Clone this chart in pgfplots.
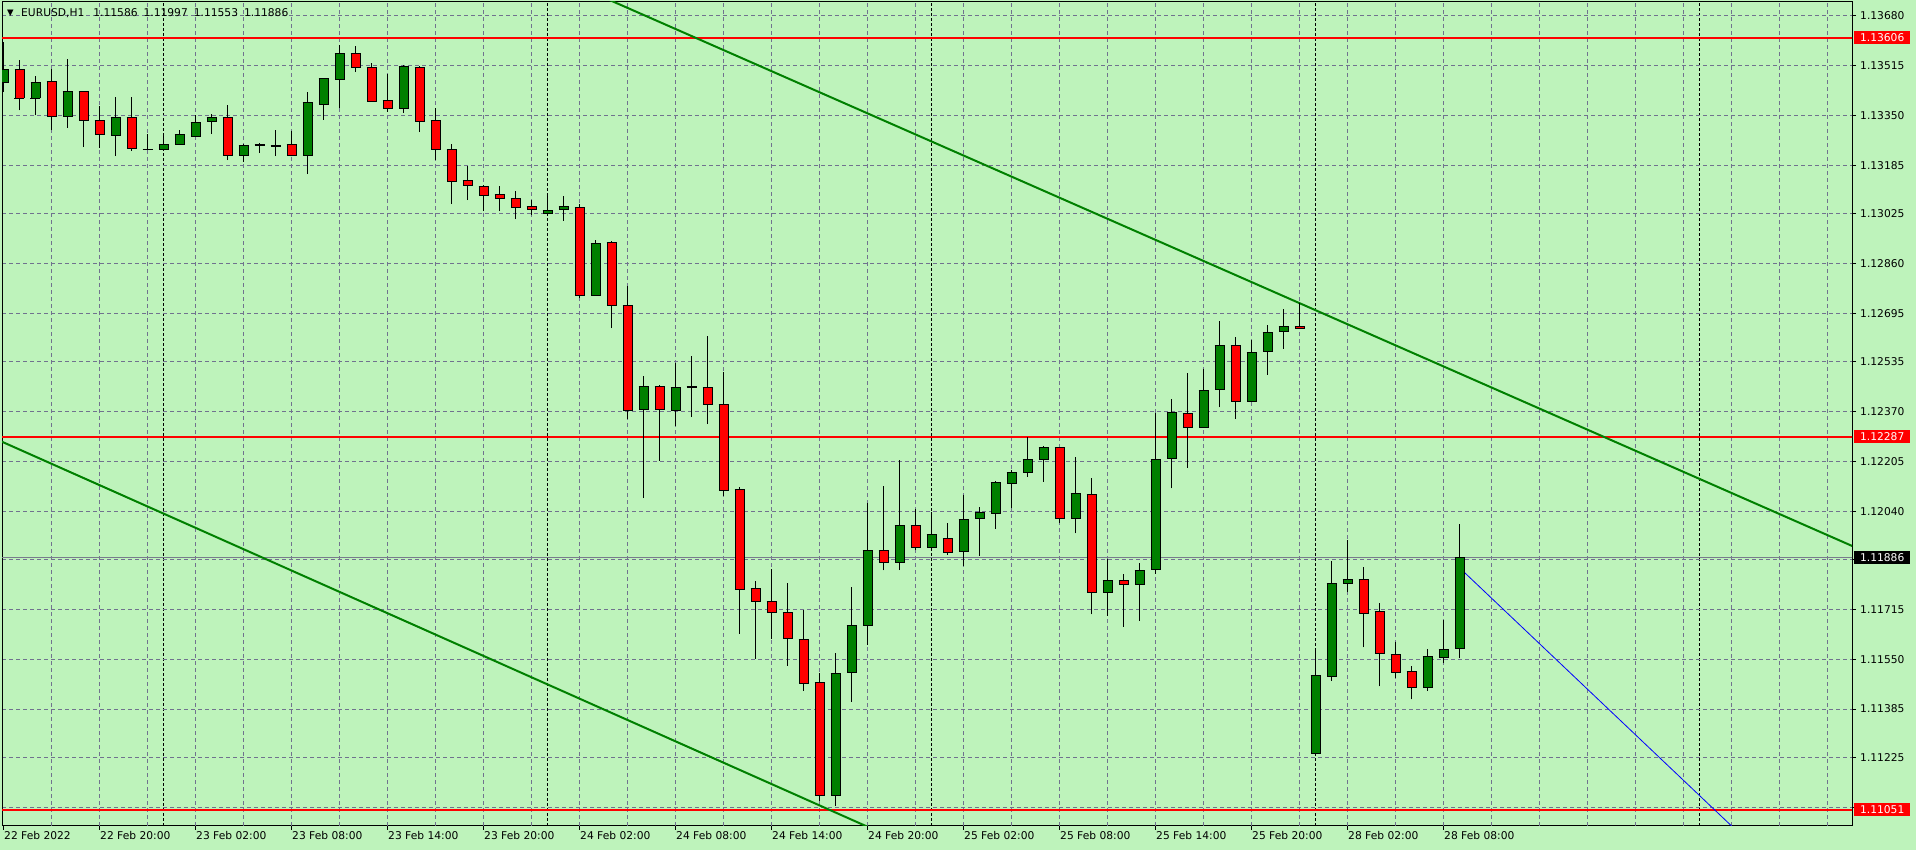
\documentclass[border=0pt]{standalone}
\usepackage{pgfplots}
\pgfplotsset{compat=1.18}
\usepackage{pgfplotstable}
\usepackage{fontspec}
\setmainfont{DejaVu Sans}
\definecolor{bg}{RGB}{190,243,187}
\definecolor{gridc}{RGB}{112,114,142}
\definecolor{cgreen}{RGB}{0,128,0}
\definecolor{cred}{RGB}{255,0,0}
\definecolor{bidc}{RGB}{120,124,140}

\pgfplotstableread{
k O H L C
0 1.13458 1.13593 1.13427 1.13504
1 1.13504 1.13532 1.13366 1.13408
2 1.13408 1.13479 1.13350 1.13458
3 1.13462 1.13502 1.13300 1.13347
4 1.13344 1.13537 1.13308 1.13429
5 1.13429 1.13432 1.13245 1.13332
6 1.13332 1.13381 1.13243 1.13286
7 1.13282 1.13409 1.13215 1.13342
8 1.13342 1.13409 1.13232 1.13239
9 1.13237 1.13289 1.13235 1.13238
10 1.13239 1.13286 1.13236 1.13256
11 1.13256 1.13302 1.13254 1.13286
12 1.13282 1.13352 1.13280 1.13329
13 1.13329 1.13355 1.13288 1.13345
14 1.13345 1.13385 1.13202 1.13219
15 1.13219 1.13254 1.13195 1.13252
16 1.13252 1.13259 1.13225 1.13253
17 1.13249 1.13300 1.13215 1.13251
18 1.13252 1.13297 1.13214 1.13216
19 1.13219 1.13426 1.13155 1.13395
20 1.13385 1.13473 1.13335 1.13471
21 1.13468 1.13584 1.13374 1.13554
22 1.13554 1.13578 1.13493 1.13508
23 1.13508 1.13524 1.13397 1.13398
24 1.13399 1.13486 1.13361 1.13372
25 1.13372 1.13518 1.13359 1.13511
26 1.13511 1.13514 1.13294 1.13332
27 1.13335 1.13375 1.13201 1.13239
28 1.13239 1.13256 1.13056 1.13133
29 1.13137 1.13182 1.13069 1.13120
30 1.13117 1.13118 1.13033 1.13087
31 1.13087 1.13117 1.13033 1.13074
32 1.13074 1.13100 1.13006 1.13047
33 1.13047 1.13070 1.13020 1.13037
34 1.13024 1.13087 1.13023 1.13037
35 1.13037 1.13083 1.13001 1.13047
36 1.13047 1.13057 1.12744 1.12755
37 1.12755 1.12938 1.12754 1.12928
38 1.12928 1.12935 1.12646 1.12722
39 1.12722 1.12786 1.12344 1.12374
40 1.12378 1.12488 1.12083 1.12454
41 1.12454 1.12458 1.12206 1.12378
42 1.12374 1.12530 1.12321 1.12451
43 1.12451 1.12554 1.12351 1.12452
44 1.12451 1.12620 1.12328 1.12395
45 1.12395 1.12502 1.12091 1.12109
46 1.12110 1.12120 1.11634 1.11780
47 1.11783 1.11808 1.11552 1.11740
48 1.11740 1.11847 1.11617 1.11705
49 1.11705 1.11801 1.11528 1.11619
50 1.11615 1.11713 1.11445 1.11469
51 1.11473 1.11504 1.11081 1.11099
52 1.11099 1.11570 1.11065 1.11503
53 1.11506 1.11788 1.11409 1.11664
54 1.11664 1.12068 1.11597 1.11912
55 1.11910 1.12122 1.11844 1.11872
56 1.11872 1.12210 1.11845 1.11992
57 1.11993 1.12047 1.11910 1.11921
58 1.11921 1.12038 1.11910 1.11964
59 1.11950 1.12001 1.11896 1.11904
60 1.11907 1.12095 1.11860 1.12013
61 1.12017 1.12054 1.11893 1.12036
62 1.12033 1.12140 1.11982 1.12136
63 1.12132 1.12175 1.12049 1.12169
64 1.12169 1.12287 1.12154 1.12212
65 1.12212 1.12256 1.12138 1.12252
66 1.12252 1.12252 1.12002 1.12017
67 1.12017 1.12220 1.11966 1.12099
68 1.12096 1.12150 1.11698 1.11772
69 1.11772 1.11883 1.11693 1.11811
70 1.11811 1.11832 1.11658 1.11800
71 1.11798 1.11869 1.11678 1.11844
72 1.11848 1.12366 1.11832 1.12209
73 1.12215 1.12411 1.12115 1.12367
74 1.12364 1.12498 1.12184 1.12318
75 1.12318 1.12509 1.12318 1.12440
76 1.12443 1.12670 1.12383 1.12589
77 1.12589 1.12617 1.12346 1.12404
78 1.12404 1.12605 1.12404 1.12566
79 1.12569 1.12657 1.12492 1.12632
80 1.12635 1.12709 1.12578 1.12652
81 1.12652 1.12730 1.12642 1.12645
82 1.11238 1.11581 1.11233 1.11497
83 1.11493 1.11876 1.11479 1.11801
84 1.11800 1.11945 1.11772 1.11815
85 1.11815 1.11856 1.11589 1.11704
86 1.11709 1.11736 1.11460 1.11570
87 1.11567 1.11607 1.11489 1.11507
88 1.11510 1.11528 1.11417 1.11457
89 1.11457 1.11584 1.11446 1.11560
90 1.11557 1.11680 1.11538 1.11583
91 1.11586 1.11997 1.11553 1.11886
}\candles

\begin{document}
\begin{tikzpicture}
\useasboundingbox (0,0) rectangle (1916pt,850pt);
\fill[bg] (0,0) rectangle (1916pt,850pt);
\begin{axis}[
  at={(2pt,24pt)}, anchor=south west,
  scale only axis, width=1850pt, height=824pt,
  xmin=-0.09375, xmax=115.53, ymin=1.10998, ymax=1.13725,
  axis line style={black, line width=1pt},
  clip=true,
  tick align=outside,
  xtick pos=bottom, ytick pos=right, yticklabel pos=right,
  major tick length=4pt,
  tick style={black, line width=1pt},
  xtick={0,6,...,90},
  xticklabels={22 Feb 2022,22 Feb 20:00,23 Feb 02:00,23 Feb 08:00,23 Feb 14:00,23 Feb 20:00,24 Feb 02:00,24 Feb 08:00,24 Feb 14:00,24 Feb 20:00,25 Feb 02:00,25 Feb 08:00,25 Feb 14:00,25 Feb 20:00,28 Feb 02:00,28 Feb 08:00},
  ytick={1.11060,1.11225,1.11385,1.11550,1.11715,1.11880,1.12040,1.12205,1.12370,1.12535,1.12695,1.12860,1.13025,1.13185,1.13350,1.13515,1.13680},
  yticklabels={1.11060,1.11225,1.11385,1.11550,1.11715,1.11880,1.12040,1.12205,1.12370,1.12535,1.12695,1.12860,1.13025,1.13185,1.13350,1.13515,1.13680},
  ymajorgrids=true,
  major grid style={gridc, line width=1pt, dash pattern=on 4pt off 3pt},
  extra x ticks={3,6,...,114},
  extra x tick labels={},
  extra x tick style={grid=major, major tick length=0pt},
  minor xtick={10,34,58,82,106},
  xminorgrids=true,
  minor tick length=0pt,
  minor grid style={black, line width=1pt, dash pattern=on 3pt off 2pt},
  ticklabel style={font=\fontsize{10.7}{12}\selectfont, text=black},
  xticklabel style={anchor=north west, inner sep=0.5pt, yshift=-1pt},
  yticklabel style={anchor=west, inner sep=0pt, xshift=4pt},
]
% horizontal lines
\addplot[cred, line width=2pt] coordinates {(-2,1.13606) (120,1.13606)};
\addplot[cred, line width=2pt] coordinates {(-2,1.12287) (120,1.12287)};
\addplot[cred, line width=2pt] coordinates {(-2,1.11051) (120,1.11051)};
\addplot[bidc, line width=1pt] coordinates {(-2,1.11886) (120,1.11886)};
% trend lines
\addplot[cgreen, line width=2pt] coordinates {(37,1.13752) (116,1.11914)};
\addplot[cgreen, line width=2pt] coordinates {(-1,1.12291) (55,1.10972)};
\addplot[blue, line width=0.8pt] coordinates {(91.03,1.11851) (109,1.10948)};
% wicks
\addplot[draw=none, mark=none, error bars/.cd, y dir=plus, y explicit, error mark=none,
  error bar style={draw=black, line width=1pt}]
  table[x=k, y=L, y error plus expr=\thisrow{H}-\thisrow{L}] {\candles};
% body outlines
\addplot[draw=none, mark=none, error bars/.cd, y dir=both, y explicit, error mark=none,
  error bar style={draw=black, line width=10pt}]
  table[x=k, y expr={(\thisrow{O}+\thisrow{C})/2}, y error expr={abs(\thisrow{C}-\thisrow{O})/2}] {\candles};
% green bodies
\addplot[draw=none, mark=none, restrict expr to domain={\thisrow{C}-\thisrow{O}}{0:1},
  error bars/.cd, y dir=both, y explicit,
  error bar style={draw=cgreen, line width=8pt},
  error mark options={draw=black, line width=1pt, mark size=5pt, rotate=90}]
  table[x=k, y expr={(\thisrow{O}+\thisrow{C})/2}, y error expr={abs(\thisrow{C}-\thisrow{O})/2}] {\candles};
% red bodies
\addplot[draw=none, mark=none, restrict expr to domain={\thisrow{C}-\thisrow{O}}{-1:-0.000001},
  error bars/.cd, y dir=both, y explicit,
  error bar style={draw=cred, line width=8pt},
  error mark options={draw=black, line width=1pt, mark size=5pt, rotate=90}]
  table[x=k, y expr={(\thisrow{O}+\thisrow{C})/2}, y error expr={abs(\thisrow{C}-\thisrow{O})/2}] {\candles};
% title
\node[anchor=base west, inner sep=0pt, font=\fontsize{10.7}{12}\selectfont, xshift=5pt, yshift=-14.5pt]
  at (rel axis cs:0,1) {\raisebox{1pt}{\fontsize{8.5}{9}\selectfont ▼}\hspace{7.5pt}EURUSD,H1\hspace{9pt}1.11586\hspace{6pt}1.11997\hspace{6pt}1.11553\hspace{6pt}1.11886};
\coordinate (R) at (rel axis cs:1,0);
\coordinate (lA) at (axis cs:0,1.13606);
\coordinate (lB) at (axis cs:0,1.12287);
\coordinate (lC) at (axis cs:0,1.11051);
\coordinate (lD) at (axis cs:0,1.11886);
\end{axis}
\tikzset{pbox/.style={anchor=west, text=white, minimum width=56pt, minimum height=13pt, inner sep=0pt, font=\fontsize{10.7}{12}\selectfont}}
\node[pbox, fill=cred, xshift=2pt] at (R |- lA) {1.13606};
\node[pbox, fill=cred, xshift=2pt] at (R |- lB) {1.12287};
\node[pbox, fill=cred, xshift=2pt] at (R |- lC) {1.11051};
\node[pbox, fill=black, xshift=2pt] at (R |- lD) {1.11886};
\end{tikzpicture}
\end{document}
